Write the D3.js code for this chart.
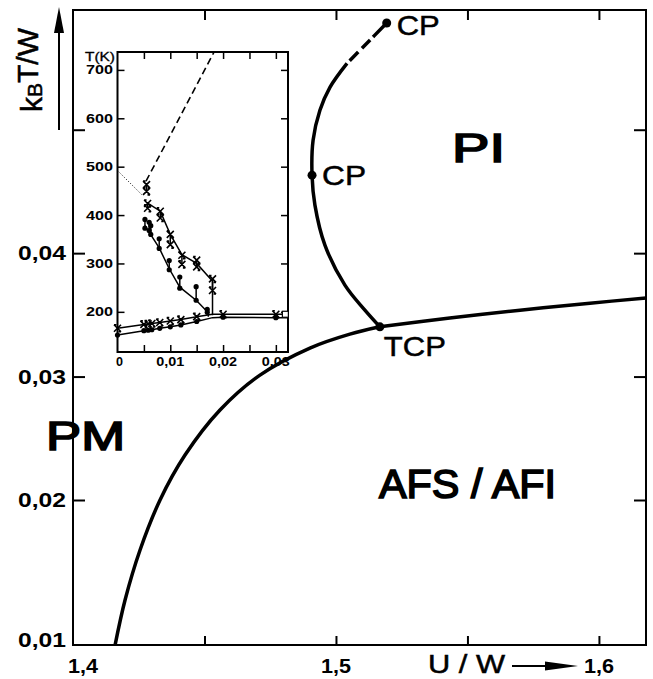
<!DOCTYPE html>
<html>
<head>
<meta charset="utf-8">
<script src="https://cdn.jsdelivr.net/npm/d3@7"></script>
<style>
  body { margin: 0; background: #fff; }
  svg { display: block; font-family: "Liberation Sans", Arial, sans-serif; }
</style>
</head>
<body>
<div id="chart"></div>
<script>
// -------------------- DATA --------------------

// main diagram axes
const xTickValues = [1.45, 1.5, 1.55, 1.6];
const xLabelValues = [1.4, 1.5, 1.6];
const xLabelTexts = ["1,4", "1,5", "1,6"];
const yTickValues = [0.02, 0.03, 0.04, 0.05];
const yLabelValues = [0.01, 0.02, 0.03, 0.04];
const yLabelTexts = ["0,01", "0,02", "0,03", "0,04"];

// PM / AFS-AFI boundary (bottom -> TCP)
const pmU = [1.4160, 1.4198, 1.4255, 1.4331, 1.4426, 1.4559, 1.4711, 1.4901, 1.5053, 1.5167];
const pmV = [0.00964, 0.01286, 0.01643, 0.0200, 0.02364, 0.02729, 0.03012, 0.03231, 0.03344, 0.03403];

// PI / AFS-AFI boundary (TCP -> right edge)
const afU = [1.5167, 1.5433, 1.5700, 1.5966, 1.6179];
const afV = [0.03403, 0.03474, 0.03538, 0.03595, 0.03636];

// PM / PI boundary (TCP -> CP -> upper CP)
const piU = [1.5167, 1.5110, 1.5034, 1.4958, 1.4920, 1.4909, 1.4913, 1.4939, 1.4977, 1.5042];
const piV = [0.03403, 0.03538, 0.03741, 0.04065, 0.04389, 0.04632, 0.04915, 0.05158, 0.05344, 0.05538];
const piDashU = [1.5042, 1.5110, 1.5193];
const piDashV = [0.05538, 0.05684, 0.05865];

// special points
const pointNames = ["CP", "CP", "TCP"];
const pointU = [1.5193, 1.4909, 1.5167];
const pointV = [0.05865, 0.04632, 0.03403];

// inset (experiment): T(K) versus x
const insetXTicks = [0.005, 0.01, 0.015, 0.02, 0.025, 0.03];
const insetXLabels = [0, 0.01, 0.02, 0.03];
const insetXTexts = ["0", "0,01", "0,02", "0,03"];
const insetYTicks = [200, 300, 400, 500, 600, 700];

const upperX = [0.0055, 0.0081, 0.0100, 0.0122, 0.0150, 0.0178, 0.0180, 0.0180];
const upperT = [426, 408, 360, 318, 300, 266, 266, 193];
const lowerX = [0.0052, 0.0079, 0.0098, 0.0118, 0.0150, 0.0172, 0.0172];
const lowerT = [378, 332, 289, 251, 223, 198, 190];

const lowBranchX = [0, 0.005, 0.0058, 0.0065, 0.008, 0.010, 0.012, 0.015, 0.018, 0.020, 0.030, 0.0323];
const lowBranchUpperT = [166, 174, 175, 176, 178, 181, 184, 190, 195, 195, 195, 195];
const lowBranchLowerT = [152, 161, 162, 163, 166, 169, 173, 180, 188, 189, 188, 188];

const dashX = [0.0054, 0.0183];
const dashT = [470, 737];
const dotX = [0, 0.0048];
const dotT = [492, 440];

// error bar pairs
const crossX = [0.0055, 0.0057, 0.0081, 0.0100, 0.0122, 0.0150, 0.0180];
const crossTop = [463, 424, 408, 360, 317, 307, 268];
const crossBot = [449, 414, 394, 339, 298, 293, 244];
const dotPX = [0.0052, 0.0060, 0.0063, 0.0079, 0.0098, 0.0118, 0.0149, 0.0170];
const dotPTop = [391, 385, 378, 351, 306, 272, 252, 205];
const dotPBot = [373, 368, 360, 331, 287, 249, 224, 199];
const lowMarkX = [0, 0.005, 0.0058, 0.0065, 0.008, 0.010, 0.012, 0.015, 0.020, 0.030];

// -------------------- CHART --------------------

const width = 653, height = 679;
const mLeft = 73, mRight = 646, mTop = 10, mBottom = 645;

const svg = d3.select("#chart").append("svg")
  .attr("width", width).attr("height", height);

const x = d3.scaleLinear().domain([1.4, 1.6179]).range([mLeft, mRight]);
// the scan is not quite uniform at the bottom, so two pieces
const y = d3.scaleLinear().domain([0.01, 0.02, 0.0597]).range([640, 500, mTop]);

// frame
svg.append("rect")
  .attr("x", mLeft).attr("y", mTop)
  .attr("width", mRight - mLeft).attr("height", mBottom - mTop)
  .attr("fill", "none").attr("stroke", "#000").attr("stroke-width", 2);

// inward ticks
function ticks(axis, tr) {
  const g = svg.append("g").attr("transform", tr).call(axis);
  g.select(".domain").remove();
  g.selectAll("text").remove();
  g.selectAll("line").attr("stroke", "#000").attr("stroke-width", 2);
}
ticks(d3.axisBottom(x).tickValues(xTickValues).tickSize(-9), `translate(0,${mBottom})`);
ticks(d3.axisTop(x).tickValues(xTickValues).tickSize(-10), `translate(0,${mTop})`);
ticks(d3.axisLeft(y).tickValues(yTickValues).tickSize(-12), `translate(${mLeft},0)`);
ticks(d3.axisRight(y).tickValues(yTickValues).tickSize(-12), `translate(${mRight},0)`);

// tick labels
svg.selectAll(".xlab").data(xLabelValues).enter().append("text")
  .attr("x", (d, i) => i === 0 ? x(d) - 5 : x(d))
  .attr("y", 673)
  .attr("text-anchor", (d, i) => i === 0 ? "start" : "middle")
  .attr("textLength", 30).attr("lengthAdjust", "spacingAndGlyphs")
  .style("font-size", "20px").style("font-weight", "bold")
  .text((d, i) => xLabelTexts[i]);

svg.selectAll(".ylab").data(yLabelValues).enter().append("text")
  .attr("x", 18)
  .attr("y", d => y(d) + 7)
  .attr("textLength", 48).attr("lengthAdjust", "spacingAndGlyphs")
  .style("font-size", "20px").style("font-weight", "bold")
  .text((d, i) => yLabelTexts[i]);

// axis titles with arrows
svg.append("text")
  .attr("x", 428).attr("y", 673)
  .attr("textLength", 77).attr("lengthAdjust", "spacingAndGlyphs")
  .style("font-size", "26px")
  .attr("stroke", "#000").attr("stroke-width", 0.5)
  .text("U / W");
svg.append("line").attr("x1", 512).attr("x2", 550).attr("y1", 666).attr("y2", 666)
  .attr("stroke", "#000").attr("stroke-width", 2);
svg.append("path").attr("d", "M545,661.5L578,666L545,670.5Z").attr("fill", "#000");

const yt = svg.append("text")
  .attr("transform", "translate(42,112) rotate(-90)")
  .attr("stroke", "#000").attr("stroke-width", 0.5)
  .style("font-size", "30px");
yt.append("tspan").text("k");
yt.append("tspan").style("font-size", "21px").text("B");
yt.append("tspan").attr("dy", -4).text("T/W");
svg.append("line").attr("x1", 59).attr("x2", 59).attr("y1", 130).attr("y2", 30)
  .attr("stroke", "#000").attr("stroke-width", 2);
svg.append("path").attr("d", "M54,33L59,7L64,33Z").attr("fill", "#000");

// phase boundaries
const line = d3.line().x(d => x(d[0])).y(d => y(d[1])).curve(d3.curveCatmullRom);
const zip = (a, b) => a.map((d, i) => [d, b[i]]);

[zip(pmU, pmV), zip(afU, afV), zip(piU, piV)].forEach(pts => {
  svg.append("path").attr("d", line(pts))
    .attr("fill", "none").attr("stroke", "#000").attr("stroke-width", 3.5);
});
svg.append("path").attr("d", line(zip(piDashU, piDashV)))
  .attr("fill", "none").attr("stroke", "#000").attr("stroke-width", 3.5)
  .attr("stroke-dasharray", "0,4,12,5,12,4,20");

svg.selectAll(".pt").data(pointU).enter().append("circle")
  .attr("cx", d => x(d)).attr("cy", (d, i) => y(pointV[i])).attr("r", 4.5)
  .attr("fill", "#000");

// point labels
const pointDx = [10, 10, 4];
const pointDy = [12, 10, 29];
const pointLen = [43, 44, 62];
svg.selectAll(".ptl").data(pointNames).enter().append("text")
  .attr("x", (d, i) => x(pointU[i]) + pointDx[i])
  .attr("y", (d, i) => y(pointV[i]) + pointDy[i])
  .attr("textLength", (d, i) => pointLen[i]).attr("lengthAdjust", "spacingAndGlyphs")
  .attr("stroke", "#000").attr("stroke-width", 0.5)
  .style("font-size", "28px")
  .text(d => d);

// region labels
const regions = [
  { t: "PI", x: 452, y: 162, w: 53 },
  { t: "PM", x: 46, y: 450, w: 79 },
  { t: "AFS / AFI", x: 379, y: 498, w: 177 }
];
svg.selectAll(".reg").data(regions).enter().append("text")
  .attr("x", d => d.x).attr("y", d => d.y)
  .attr("textLength", d => d.w).attr("lengthAdjust", "spacingAndGlyphs")
  .attr("stroke", "#000").attr("stroke-width", 1.6)
  .style("font-size", "40px")
  .text(d => d.t);

// -------------------- INSET --------------------
const iL = 117.5, iR = 288, iT = 52, iB = 352;
const ix = d3.scaleLinear().domain([0, 0.0323]).range([iL, iR]);
const iy = d3.scaleLinear().domain([117, 737]).range([iB, iT]);

const inset = svg.append("g");
inset.append("rect").attr("x", iL).attr("y", iT)
  .attr("width", iR - iL).attr("height", iB - iT)
  .attr("fill", "#fff").attr("stroke", "#000").attr("stroke-width", 2);

function iticks(axis, tr) {
  const g = inset.append("g").attr("transform", tr).call(axis);
  g.select(".domain").remove();
  g.selectAll("text").remove();
  g.selectAll("line").attr("stroke", "#000").attr("stroke-width", 1.5);
}
iticks(d3.axisBottom(ix).tickValues(insetXTicks).tickSize(-7), `translate(0,${iB})`);
iticks(d3.axisTop(ix).tickValues(insetXTicks).tickSize(-7), `translate(0,${iT})`);
iticks(d3.axisLeft(iy).tickValues(insetYTicks).tickSize(-7), `translate(${iL},0)`);
iticks(d3.axisRight(iy).tickValues(insetYTicks).tickSize(-7), `translate(${iR},0)`);

inset.selectAll(".ixl").data(insetXLabels).enter().append("text")
  .attr("x", d => ix(d) + (d === 0 ? 2 : 0)).attr("y", 366)
  .attr("text-anchor", "middle")
  .attr("textLength", d => d === 0 ? 7 : 28).attr("lengthAdjust", "spacingAndGlyphs")
  .style("font-size", "12px").style("font-weight", "bold")
  .text((d, i) => insetXTexts[i]);
inset.selectAll(".iyl").data(insetYTicks).enter().append("text")
  .attr("x", 113).attr("y", d => iy(d) + 4.5)
  .attr("text-anchor", "end")
  .attr("textLength", 27).attr("lengthAdjust", "spacingAndGlyphs")
  .style("font-size", "12px").style("font-weight", "bold")
  .text(d => d);
inset.append("text").attr("x", 85).attr("y", 61)
  .attr("textLength", 30).attr("lengthAdjust", "spacingAndGlyphs")
  .attr("stroke", "#000").attr("stroke-width", 0.3)
  .style("font-size", "12px")
  .text("T(K)");

const iline = d3.line().x(d => ix(d[0])).y(d => iy(d[1]));
function ipath(pts, w, dash) {
  inset.append("path").attr("d", iline(pts))
    .attr("fill", "none").attr("stroke", "#000").attr("stroke-width", w)
    .attr("stroke-dasharray", dash || null);
}
ipath(zip(dashX, dashT), 1.6, "7,4");
ipath(zip(dotX, dotT), 1, "1,2");
ipath(zip(upperX, upperT), 1.5);
ipath(zip(lowerX, lowerT), 1.5);
ipath(zip(lowBranchX, lowBranchUpperT), 1.5);
ipath(zip(lowBranchX, lowBranchLowerT), 1.5);

// error bars
crossX.forEach((d, i) => ipath([[d, crossTop[i]], [d, crossBot[i]]], 1.5));
dotPX.forEach((d, i) => ipath([[d, dotPTop[i]], [d, dotPBot[i]]], 1.5));

// markers
function cross(cx, cy) {
  const s = 3.5;
  inset.append("path")
    .attr("d", `M${cx - s},${cy - s}L${cx + s},${cy + s}M${cx - s},${cy + s}L${cx + s},${cy - s}` +
      `M${cx - s},${cy - s}L${cx - 1},${cy - s}M${cx + 1},${cy + s}L${cx + s},${cy + s}`)
    .attr("stroke", "#000").attr("stroke-width", 1.6).attr("fill", "none");
}
function dot(cx, cy) {
  inset.append("circle").attr("cx", cx).attr("cy", cy).attr("r", 2.6).attr("fill", "#000");
}
crossX.forEach((d, i) => { cross(ix(d), iy(crossTop[i])); cross(ix(d), iy(crossBot[i])); });
dotPX.forEach((d, i) => { dot(ix(d), iy(dotPTop[i])); dot(ix(d), iy(dotPBot[i])); });
lowMarkX.forEach(d => {
  const j = lowBranchX.indexOf(d);
  cross(ix(d), iy(lowBranchUpperT[j]));
  dot(ix(d), iy(lowBranchLowerT[j]));
});
// open square at right edge
inset.append("rect").attr("x", ix(0.0318) - 3).attr("y", iy(195) - 3)
  .attr("width", 6).attr("height", 6).attr("fill", "#fff").attr("stroke", "#000").attr("stroke-width", 1.2);
</script>
</body>
</html>
